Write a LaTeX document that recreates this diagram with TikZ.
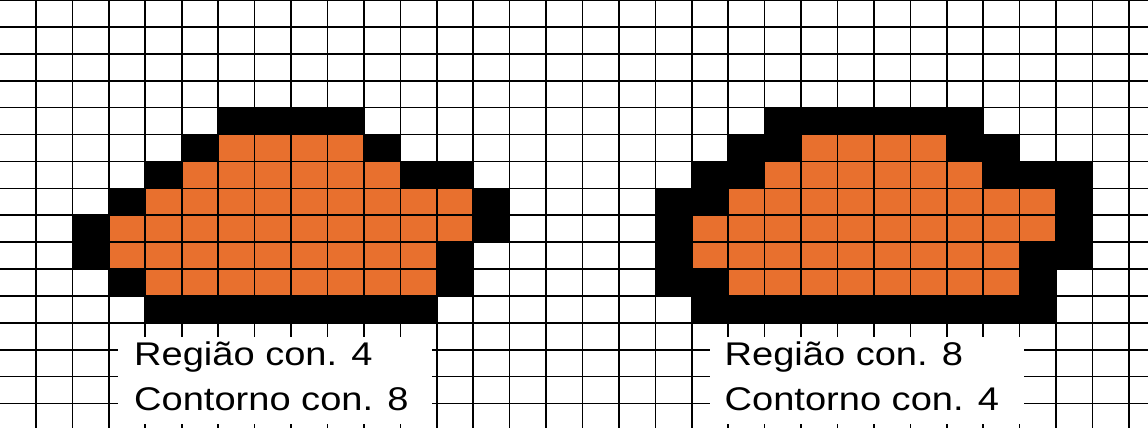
\documentclass[tikz,border=0pt]{standalone}
\usepackage{fontspec}
\setmainfont{Liberation Sans}
\usepackage{graphicx}
\definecolor{pix}{RGB}{232,112,46}
\newcommand{\lbltxt}[1]{\scalebox{1.16}[1]{\fontsize{32.8}{45}\selectfont #1}}
\begin{document}
\begin{tikzpicture}[x=1pt,y=-1pt,
  gridline/.style={line width=1.6pt,black},
  labelbox/.style={fill=white,inner sep=0,anchor=north west,minimum width=314pt,minimum height=87pt},
  labeltext/.style={inner sep=0,anchor=base west}]
\useasboundingbox (0,0) rectangle (1148,428);
\clip (0,0) rectangle (1148,428);
\fill[white] (0,0) rectangle (1148,428);
% cells: row/first col/last col/colour
\foreach \r/\a/\b/\c in {
  4/6/9/black,
  5/5/5/black, 5/6/9/pix, 5/10/10/black,
  6/4/4/black, 6/5/10/pix, 6/11/12/black,
  7/3/3/black, 7/4/12/pix, 7/13/13/black,
  8/2/2/black, 8/3/12/pix, 8/13/13/black,
  9/2/2/black, 9/3/11/pix, 9/12/12/black,
  10/3/3/black, 10/4/11/pix, 10/12/12/black,
  11/4/11/black,
  4/21/26/black,
  5/20/21/black, 5/22/25/pix, 5/26/27/black,
  6/19/20/black, 6/21/26/pix, 6/27/29/black,
  7/18/19/black, 7/20/28/pix, 7/29/29/black,
  8/18/18/black, 8/19/28/pix, 8/29/29/black,
  9/18/18/black, 9/19/27/pix, 9/28/29/black,
  10/18/19/black, 10/20/27/pix, 10/28/28/black,
  11/19/28/black}
  { \fill[\c] ({-0.43+36.43*\a},{26.9*\r}) rectangle ({-0.43+36.43*(\b+1)},{26.9*(\r+1)}); }
% grid
\foreach \k in {0,...,31} { \draw[gridline] ({-0.43+36.43*\k},0) -- ({-0.43+36.43*\k},428); }
\foreach \j in {0,...,15} { \draw[gridline] (0,{26.9*\j}) -- (1148,{26.9*\j}); }
% labels
\node[labelbox] (boxA) at (118,337) {};
\node[labelbox] (boxB) at (710,337) {};
\node[labeltext] (a1) at (134,365) {\lbltxt{Região con. 4}};
\node[labeltext] (a2) at (134,410) {\lbltxt{Contorno con. 8}};
\node[labeltext] (b1) at (724.5,365) {\lbltxt{Região con. 8}};
\node[labeltext] (b2) at (724.5,410) {\lbltxt{Contorno con. 4}};
\end{tikzpicture}
\end{document}
